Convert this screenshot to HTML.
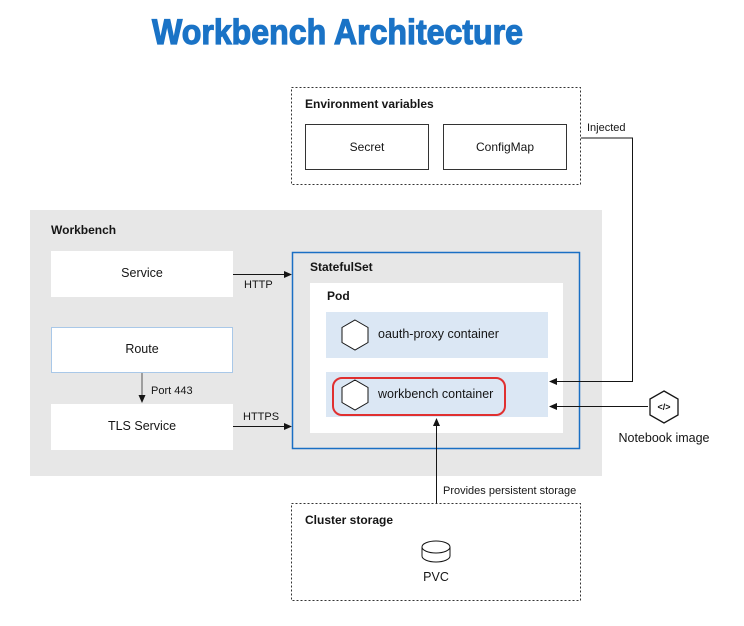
<!DOCTYPE html>
<html><head><meta charset="utf-8"><style>
html,body{margin:0;padding:0;background:#fff;width:744px;height:626px;overflow:hidden}
svg{display:block}
text{font-family:"Liberation Sans",sans-serif;fill:#151515}
</style></head><body>
<svg width="744" height="626" viewBox="0 0 744 626" xmlns="http://www.w3.org/2000/svg">
<defs><marker id="a" markerWidth="8" markerHeight="8" refX="7" refY="4" orient="auto" markerUnits="userSpaceOnUse"><path d="M0,0.5 L8,4 L0,7.5z" fill="#151515"/></marker></defs>
<text x="152" y="44" font-size="35" font-weight="bold" textLength="371" lengthAdjust="spacingAndGlyphs" style="fill:#1a73c6;stroke:#1a73c6;stroke-width:1.2">Workbench Architecture</text>

<!-- env vars -->
<rect x="291.5" y="87.5" width="289" height="97" fill="#fff" stroke="#333" stroke-dasharray="2,2"/>
<text x="305" y="108" font-size="12" font-weight="bold">Environment variables</text>
<rect x="305.5" y="124.5" width="123" height="45" fill="#fff" stroke="#333"/>
<text x="367" y="151" font-size="12" text-anchor="middle">Secret</text>
<rect x="443.5" y="124.5" width="123" height="45" fill="#fff" stroke="#333"/>
<text x="505" y="151" font-size="12" text-anchor="middle">ConfigMap</text>
<text x="587" y="131" font-size="11">Injected</text>

<!-- workbench -->
<rect x="30" y="210" width="572" height="266" fill="#e7e7e7"/>
<text x="51" y="234" font-size="12" font-weight="bold">Workbench</text>
<rect x="51" y="251" width="182" height="46" fill="#fff"/>
<text x="142" y="277" font-size="12.5" text-anchor="middle">Service</text>
<rect x="51.5" y="327.5" width="181" height="45" fill="#fff" stroke="#a9c8e8"/>
<text x="142" y="353" font-size="12.5" text-anchor="middle">Route</text>
<line x1="142" y1="373" x2="142" y2="402" stroke="#555" marker-end="url(#a)"/>
<text x="151" y="394" font-size="11">Port 443</text>
<rect x="51" y="404" width="182" height="46" fill="#fff"/>
<text x="142" y="430" font-size="12.5" text-anchor="middle">TLS Service</text>
<line x1="233" y1="274.5" x2="291" y2="274.5" stroke="#151515" marker-end="url(#a)"/>
<text x="244" y="288" font-size="11">HTTP</text>
<line x1="233" y1="426.5" x2="291" y2="426.5" stroke="#151515" marker-end="url(#a)"/>
<text x="243" y="420" font-size="11">HTTPS</text>

<rect x="292.5" y="252.5" width="287" height="196" fill="#e7e7e7" stroke="#1a6fc4" stroke-width="1.5"/>
<text x="310" y="271" font-size="12" font-weight="bold">StatefulSet</text>
<rect x="310" y="283" width="253" height="150" fill="#fff"/>
<text x="327" y="300" font-size="12" font-weight="bold">Pod</text>
<rect x="326" y="312" width="222" height="46" fill="#dbe7f4"/>
<polygon points="355,320 368,327.5 368,342.5 355,350 342,342.5 342,327.5" fill="#fff" stroke="#151515"/>
<text x="378" y="338" font-size="12.5">oauth-proxy container</text>
<rect x="326" y="372" width="222" height="45" fill="#dbe7f4"/>
<rect x="333" y="378" width="172" height="37" rx="9" fill="none" stroke="#e03030" stroke-width="2"/>
<polygon points="355,380 368,387.5 368,402.5 355,410 342,402.5 342,387.5" fill="#fff" stroke="#151515"/>
<text x="378" y="398" font-size="12.5">workbench container</text>

<polyline points="581,138 632.5,138 632.5,381.5 550,381.5" fill="none" stroke="#151515" marker-end="url(#a)"/>

<!-- notebook -->
<line x1="648" y1="406.5" x2="550" y2="406.5" stroke="#151515" marker-end="url(#a)"/>
<polygon points="664,391 678,399 678,415 664,423 650,415 650,399" fill="#fff" stroke="#151515" stroke-width="1.3"/>
<text x="664" y="410" font-size="9" text-anchor="middle" font-weight="bold">&lt;/&gt;</text>
<text x="664" y="442" font-size="12.5" text-anchor="middle">Notebook image</text>

<!-- storage -->
<line x1="436.5" y1="504" x2="436.5" y2="419" stroke="#151515" marker-end="url(#a)"/>
<text x="443" y="494" font-size="11">Provides persistent storage</text>
<rect x="291.5" y="503.5" width="289" height="97" fill="#fff" stroke="#333" stroke-dasharray="2,2"/>
<text x="305" y="524" font-size="12" font-weight="bold">Cluster storage</text>
<path d="M422,547 a14,6 0 0 1 28,0 v9 a14,6 0 0 1 -28,0z" fill="#fff" stroke="#151515"/>
<path d="M422,547 a14,6 0 0 0 28,0" fill="none" stroke="#151515"/>
<text x="436" y="581" font-size="12.5" text-anchor="middle">PVC</text>
</svg>
</body></html>
